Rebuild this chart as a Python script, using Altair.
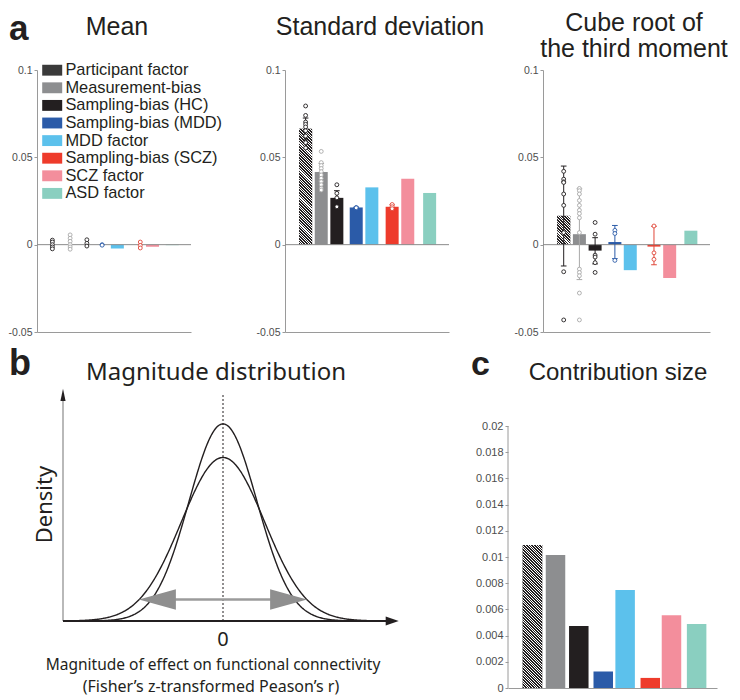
import altair as alt
import pandas as pd

# ---------------- data ----------------
CATEGORIES = ["Participant factor", "Measurement-bias", "Sampling-bias (HC)",
              "Sampling-bias (MDD)", "MDD factor", "Sampling-bias (SCZ)",
              "SCZ factor", "ASD factor"]
BAR_COLORS = ["#3a3a3a", "#8d8e90", "#231f20", "#2b5ba8", "#5cc1ec",
              "#ee3b2b", "#f38e9c", "#8acfc0"]
POINT_CATS = ["Participant factor", "Measurement-bias", "Sampling-bias (HC)",
              "Sampling-bias (MDD)", "Sampling-bias (SCZ)"]
POINT_COLORS = ["#231f20", "#a8a8a8", "#231f20", "#2b5ba8", "#e0473a"]

POS_MEAN = [1, 2.06, 3.06, 3.97, 4.88, 6.25, 6.98, 8.16]
POS_SD = [1, 2, 3, 4.24, 5.24, 6.54, 7.54, 8.94]
POS_CUBE = [1, 2, 3, 4.26, 5.24, 6.75, 7.75, 9.1]
POS_C = [1, 1.99, 2.99, 4.04, 4.98, 6.06, 6.97, 8.05]

MEAN_BAR = [0.0, 0.0, 0.0, 0.0, -0.0022, 0.0, -0.0012, -0.0003]
SD_BAR = [0.0663, 0.0416, 0.0268, 0.0213, 0.0328, 0.0217, 0.0378, 0.0296]
CUBE_BAR = [0.0165, 0.006, -0.0034, 0.0015, -0.0146, -0.0011, -0.0191, 0.008]
CONTRIB = [0.01091, 0.01015, 0.00474, 0.00126, 0.00748, 0.00077, 0.00556, 0.00489]

MEAN_P_PART = [0.0026, 0.0015, 0.0, -0.0013, -0.0024]
MEAN_P_MEAS = [0.0056, 0.0037, 0.0019, 0.0, -0.0013, -0.0026]
MEAN_P_HC = [0.0028, 0.0008, -0.0008]
MEAN_P_MDD = [0.0, -0.0003]
MEAN_P_SCZ = [0.0015, -0.0004, -0.0019]

SD_P_PART = [0.0794, 0.074, 0.0702, 0.0689, 0.0674, 0.0652, 0.0622, 0.0584, 0.0554]
SD_P_MEAS = [0.0534, 0.047, 0.0453, 0.0436, 0.0418, 0.0399, 0.038, 0.0361, 0.0343, 0.0324, 0.0313]
SD_P_HC = [0.0343, 0.0294, 0.0268, 0.0217]
SD_P_MDD = [0.0213, 0.0211]
SD_P_SCZ = [0.023, 0.0217, 0.0206]
SD_ERR_LO = [0.060, 0.0365, 0.0225, 0.0211, 0.0206]
SD_ERR_HI = [0.0725, 0.0465, 0.0309, 0.0215, 0.0228]

CUBE_P_PART = [0.042, 0.0375, 0.036, 0.0356, 0.029, 0.0225, 0.0069, -0.0155, -0.0431]
CUBE_P_MEAS = [0.0322, 0.0309, 0.029, 0.0253, 0.0225, 0.0197, 0.0178, 0.0154, 0.0069,
               -0.014, -0.0159, -0.0178, -0.0277, -0.0431]
CUBE_P_HC = [0.0127, 0.006, -0.006, -0.0071, -0.0103, -0.0159]
CUBE_P_MDD = [0.0082, 0.0064, -0.009]
CUBE_P_SCZ = [0.0107, -0.0047, -0.0084]
CUBE_ERR_LO = [-0.0122, -0.02, -0.011, -0.008, -0.0115]
CUBE_ERR_HI = [0.045, 0.032, 0.004, 0.011, 0.0105]

A_TICKS = [-0.05, 0, 0.05, 0.1]
C_TICKS = [0, 0.002, 0.004, 0.006, 0.008, 0.01, 0.012, 0.014, 0.016, 0.018, 0.02]

# panel b schematic (two normal curves, same centre)
CURVE_SIGMA = [0.85, 1.04]
CURVE_PEAK = [0.88, 0.73]
B_AXIS_X = [-4.0, 4.2]
ARROW_Y = 0.096
ARROW_SHAFT = [-1.6, 1.6]
ARROW_HEADS = [-1.64, 1.64]

# ---------------- style ----------------
GREY_AX = "#9a9a9a"
LABEL_GREY = "#4d4d4d"
A_H = 262
B_H = 224
C_H = 291
C_TOP = 0.02 * C_H / 262
CAP = 0.18


def hatch(w, h, period=2.7, dark=0.6):
    s = (w + h) / (w * w + h * h)
    L = w + h
    n = int(L / period) + 1
    stops = []
    for k in range(n):
        a = min(k * period / L, 1)
        b = min((k + dark) * period / L, 1)
        c = min((k + 1) * period / L, 1)
        stops += [alt.GradientStop(color="#231f20", offset=a),
                  alt.GradientStop(color="#231f20", offset=b),
                  alt.GradientStop(color="#ffffff", offset=b),
                  alt.GradientStop(color="#ffffff", offset=c)]
    return alt.LinearGradient(gradient="linear", stops=stops,
                              x1=0, y1=1, x2=w * s, y2=1 - h * s)


def text_layer(txt, x, y, size, font="Liberation Sans", weight="normal",
               align="center", baseline="middle", angle=0):
    return alt.Chart(pd.DataFrame({"t": [txt]})).mark_text(
        fontSize=size, font=font, fontWeight=weight, align=align,
        baseline=baseline, angle=angle, color="#231f20"
    ).encode(text="t:N", x=alt.value(x), y=alt.value(y))


def a_panel(positions, point_lists, err_lo, err_hi, bar_vals, xdom, width, titles,
            legend=False, letter=None):
    xs = alt.Scale(domain=xdom, nice=False, zero=False)
    ys = alt.Scale(domain=[-0.05, 0.1], nice=False, zero=False)
    bars = pd.DataFrame({"cat": CATEGORIES, "pos": positions, "val": bar_vals})
    leg = None
    if legend:
        leg = alt.Legend(orient="none", legendX=7, legendY=-8, title=None,
                         symbolType="M-1.25,-0.68H1.25V0.68H-1.25Z", symbolSize=256,
                         symbolStrokeWidth=0, symbolOpacity=1,
                         labelFontSize=16.4, labelFont="Liberation Sans",
                         labelColor="#231f20", labelOffset=5, labelLimit=400,
                         rowPadding=0.6, padding=0)
    layers = [alt.Chart(bars).mark_bar(size=13).encode(
        x=alt.X("pos:Q", scale=xs, axis=alt.Axis(labels=False, ticks=False, title=None,
                                                   grid=False, domainColor=GREY_AX)),
        y=alt.Y("val:Q", scale=ys, axis=alt.Axis(
            values=A_TICKS, labelExpr="'' + datum.value", title=None, grid=False,
            tickSize=3, tickColor=GREY_AX, domainColor=GREY_AX, labelFontSize=10.5,
            labelColor=LABEL_GREY, labelPadding=2, labelFont="Liberation Sans")),
        color=alt.Color("cat:N", scale=alt.Scale(domain=CATEGORIES, range=BAR_COLORS),
                        legend=leg))]
    hpx = abs(bar_vals[0]) / 0.15 * A_H
    if hpx > 2:
        layers.append(alt.Chart(bars.iloc[:1]).mark_bar(size=13, fill=hatch(13, hpx))
                      .encode(x="pos:Q", y="val:Q"))
    layers.append(alt.Chart(pd.DataFrame({"val": [0.0]}))
                  .mark_rule(color="#8a8a8a", strokeWidth=1).encode(y="val:Q"))
    stroke_scale = alt.Scale(domain=POINT_CATS, range=POINT_COLORS)
    if err_lo is not None:
        rows, caps = [], []
        for c, lo, hi in zip(POINT_CATS, err_lo, err_hi):
            p = positions[CATEGORIES.index(c)]
            rows.append({"cat": c, "pos": p, "val": lo, "val2": hi})
            for v in (lo, hi):
                caps.append({"cat": c, "cl": p - CAP, "cr": p + CAP, "val": v})
        layers.append(alt.Chart(pd.DataFrame(rows)).mark_rule(strokeWidth=1).encode(
            x="pos:Q", y="val:Q", y2="val2:Q",
            stroke=alt.Stroke("cat:N", scale=stroke_scale, legend=None)))
        layers.append(alt.Chart(pd.DataFrame(caps)).mark_rule(strokeWidth=1).encode(
            x="cl:Q", x2="cr:Q", y="val:Q",
            stroke=alt.Stroke("cat:N", scale=stroke_scale, legend=None)))
    prow = []
    for c, vals in zip(POINT_CATS, point_lists):
        p = positions[CATEGORIES.index(c)]
        for v in vals:
            prow.append({"cat": c, "pos": p, "val": v})
    layers.append(alt.Chart(pd.DataFrame(prow)).mark_point(
        shape="circle", size=15, strokeWidth=0.9, fill="white", opacity=1).encode(
        x="pos:Q", y="val:Q",
        stroke=alt.Stroke("cat:N", scale=stroke_scale, legend=None)))
    for (txt, tx, ty) in titles:
        layers.append(text_layer(txt, tx, ty, 25))
    if letter:
        layers.append(text_layer(letter, -28, -30, 35, weight="bold",
                                 align="left", baseline="alphabetic"))
    return alt.layer(*layers).properties(width=width, height=A_H)


mean_chart = a_panel(POS_MEAN, [MEAN_P_PART, MEAN_P_MEAS, MEAN_P_HC, MEAN_P_MDD, MEAN_P_SCZ],
                     None, None, MEAN_BAR, [0.38, 8.98], 154,
                     [("Mean", 80, -43)], legend=True, letter="a")
sd_chart = a_panel(POS_SD, [SD_P_PART, SD_P_MEAS, SD_P_HC, SD_P_MDD, SD_P_SCZ],
                   SD_ERR_LO, SD_ERR_HI, SD_BAR, [0.0, 9.86], 164,
                   [("Standard deviation", 95, -43)])
cube_chart = a_panel(POS_CUBE, [CUBE_P_PART, CUBE_P_MEAS, CUBE_P_HC, CUBE_P_MDD, CUBE_P_SCZ],
                     CUBE_ERR_LO, CUBE_ERR_HI, CUBE_BAR, [0.0, 10.0], 167,
                     [("Cube root of", 91, -47), ("the third moment", 91, -21)])

# ---------------- panel b ----------------
bxs = alt.Scale(domain=[-4.65, 4.5], nice=False, zero=False)
bys = alt.Scale(domain=[0, 1], nice=False, zero=False)


def BX(f):
    return alt.X(f, scale=bxs, axis=None)


def BY(f):
    return alt.Y(f, scale=bys, axis=None)


b_layers = []
for sg, pk in zip(CURVE_SIGMA, CURVE_PEAK):
    b_layers.append(
        alt.Chart(alt.sequence(B_AXIS_X[0], B_AXIS_X[1] - 0.2 + 0.001, 0.02, as_="x"))
        .transform_calculate(y=f"{pk} * exp(-0.5 * pow(datum.x / {sg}, 2))")
        .mark_line(color="#231f20", strokeWidth=1.4)
        .encode(x=BX("x:Q"), y=BY("y:Q")))
b_layers.append(alt.Chart(pd.DataFrame({"x": [0.0], "y": [0.0], "y2": [1.01]}))
                .mark_rule(color="#231f20", strokeWidth=1, strokeDash=[2, 2])
                .encode(x=BX("x:Q"), y=BY("y:Q"), y2="y2:Q"))
b_layers.append(alt.Chart(pd.DataFrame({"x": [B_AXIS_X[0]], "y": [0.0], "y2": [1.0]}))
                .mark_rule(color="#8a8a8a", strokeWidth=1.2)
                .encode(x=BX("x:Q"), y=BY("y:Q"), y2="y2:Q"))
b_layers.append(alt.Chart(pd.DataFrame({"x": [B_AXIS_X[0]], "x2": [B_AXIS_X[1]], "y": [0.0]}))
                .mark_rule(color="#231f20", strokeWidth=2)
                .encode(x=BX("x:Q"), x2="x2:Q", y=BY("y:Q")))
b_layers.append(alt.Chart(pd.DataFrame({"x": [B_AXIS_X[0]], "y": [1.01]}))
                .mark_point(shape="M0,-1L0.42,1L-0.42,1Z", size=150, filled=True,
                            color="#231f20", opacity=1)
                .encode(x=BX("x:Q"), y=BY("y:Q")))
b_layers.append(alt.Chart(pd.DataFrame({"x": [B_AXIS_X[1] + 0.03], "y": [0.0]}))
                .mark_point(shape="M1,0L-1,-0.7L-1,0.7Z", size=170, filled=True,
                            color="#231f20", opacity=1)
                .encode(x=BX("x:Q"), y=BY("y:Q")))
b_layers.append(alt.Chart(pd.DataFrame({"x": [ARROW_SHAFT[0]], "x2": [ARROW_SHAFT[1]],
                                        "y": [ARROW_Y]}))
                .mark_rule(color="#9b9b9b", strokeWidth=2.5)
                .encode(x=BX("x:Q"), x2="x2:Q", y=BY("y:Q")))
b_layers.append(alt.Chart(pd.DataFrame({"x": [ARROW_HEADS[0]], "y": [ARROW_Y]}))
                .mark_point(shape="M-1,0L1,-0.55L1,0.55Z", size=1369, filled=True,
                            color="#8f8f8f", opacity=1)
                .encode(x=BX("x:Q"), y=BY("y:Q")))
b_layers.append(alt.Chart(pd.DataFrame({"x": [ARROW_HEADS[1]], "y": [ARROW_Y]}))
                .mark_point(shape="M1,0L-1,-0.55L-1,0.55Z", size=1369, filled=True,
                            color="#8f8f8f", opacity=1)
                .encode(x=BX("x:Q"), y=BY("y:Q")))
b_texts = pd.DataFrame({
    "t": ["0", "Magnitude of effect on functional connectivity",
          "(Fisher\u2019s z-transformed Peason\u2019s    r)"],
    "x": [0.0, -0.25, -0.3], "y": [0.0, 0.0, 0.0],
    "dy": [19, 44, 66], "fs": [20, 15.5, 16]})
for _, r in b_texts.iterrows():
    b_layers.append(alt.Chart(pd.DataFrame([r])).mark_text(
        font="Noto Sans", fontSize=float(r["fs"]), dy=float(r["dy"]), color="#231f20",
        baseline="middle").encode(x=BX("x:Q"), y=BY("y:Q"), text="t:N"))
b_layers.append(alt.Chart(pd.DataFrame({"t": ["Density"], "x": [-4.45], "y": [0.52]}))
                .mark_text(font="Noto Sans", fontSize=22, angle=270, color="#231f20",
                           baseline="middle")
                .encode(x=BX("x:Q"), y=BY("y:Q"), text="t:N"))
b_layers.append(text_layer("Magnitude distribution", 179, -24, 24, font="Noto Sans"))
b_layers.append(text_layer("b", -28, -22, 36, weight="bold", align="left",
                           baseline="alphabetic"))
b_chart = alt.layer(*b_layers).properties(width=366, height=B_H)

# ---------------- panel c ----------------
cxs = alt.Scale(domain=[0.165, 8.71], nice=False, zero=False)
cys = alt.Scale(domain=[0, C_TOP], nice=False, zero=False)
c_axis = alt.Axis(values=C_TICKS, labelExpr="'' + datum.value", title=None, grid=False,
                  domain=False, tickSize=3, tickColor=GREY_AX, labelFontSize=11,
                  labelColor=LABEL_GREY, labelPadding=2, labelFont="Liberation Sans",
                  labelOverlap=False, labelSeparation=0)
c_x_axis = alt.Axis(labels=False, ticks=False, title=None, grid=False, domainColor=GREY_AX)
cdf = pd.DataFrame({"cat": CATEGORIES, "pos": POS_C, "val": CONTRIB})
c_layers = [alt.Chart(cdf).mark_bar(size=19.5).encode(
    x=alt.X("pos:Q", scale=cxs, axis=c_x_axis),
    y=alt.Y("val:Q", scale=cys, axis=c_axis),
    color=alt.Color("cat:N", scale=alt.Scale(domain=CATEGORIES, range=BAR_COLORS),
                    legend=None))]
c_h_px = CONTRIB[0] / C_TOP * C_H
c_layers.append(alt.Chart(cdf.iloc[:1]).mark_bar(size=19.5, fill=hatch(19.5, c_h_px))
                .encode(x=alt.X("pos:Q", scale=cxs, axis=c_x_axis),
                        y=alt.Y("val:Q", scale=cys, axis=c_axis)))
c_layers.append(alt.Chart(pd.DataFrame({"val": [0.0], "val2": [C_TICKS[-1]]}))
                .mark_rule(color=GREY_AX, strokeWidth=1)
                .encode(x=alt.value(0), y=alt.Y("val:Q", scale=cys, axis=c_axis),
                        y2="val2:Q"))
c_layers.append(text_layer("Contribution size", 110, -24, 24))
c_layers.append(text_layer("c", -37, -22, 34, weight="bold", align="left",
                           baseline="alphabetic"))
c_chart = alt.layer(*c_layers).properties(width=209, height=C_H)

row1 = alt.hconcat(mean_chart, sd_chart, cube_chart, spacing=94, bounds="flush") \
    .resolve_scale(color="independent", stroke="independent")
row2 = alt.hconcat(b_chart, c_chart, spacing=105, bounds="flush") \
    .resolve_scale(color="independent", stroke="independent")
chart = alt.vconcat(row1, row2, spacing=8) \
    .resolve_scale(color="independent", stroke="independent") \
    .properties(padding={"top": 3, "left": 0, "right": 0, "bottom": 5}) \
    .configure_view(stroke=None)

chart.save("out.html", embed_options={"renderer": "svg", "actions": False})
